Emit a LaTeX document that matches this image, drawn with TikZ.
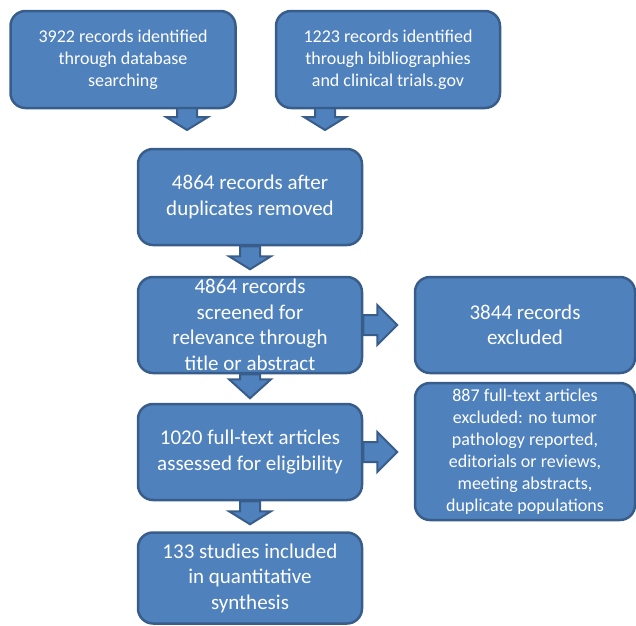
\documentclass[tikz,border=0pt]{standalone}
\usepackage{fontspec}
\setmainfont{Carlito}
\begin{document}
\begin{tikzpicture}[x=1pt,y=-1pt,
  box/.style={draw=boxline,fill=boxfill,line width=2.5pt,rounded corners=15pt,
    text=white,align=center,inner sep=0pt,font=\fontsize{21}{25.5}\selectfont},
  smalltext/.style={font=\fontsize{18}{22}\selectfont},
  blockarrow/.style={draw=boxline,fill=boxfill,line width=2pt,line join=miter}]
\definecolor{boxfill}{RGB}{79,129,189}
\definecolor{boxline}{RGB}{56,93,138}
\useasboundingbox (0,0) rectangle (636,625);

\node[box,smalltext,minimum width=225pt,minimum height=97pt] (b1) at (123,59.5)
  {3922 records identified\\through database\\searching};
\node[box,smalltext,minimum width=224pt,minimum height=97pt] (b2) at (388,59.5)
  {1223 records identified\\through bibliographies\\and clinical trials.gov};
\node[box,minimum width=224pt,minimum height=96pt] (b3) at (250,197)
  {4864 records after\\duplicates removed};
\node[box,minimum width=224pt,minimum height=96pt] (b4) at (250,325)
  {4864 records\\screened for\\relevance through\\title or abstract};
\node[box,minimum width=220pt,minimum height=96pt] (b5) at (525,325)
  {3844 records\\excluded};
\node[box,smalltext,minimum width=220pt,minimum height=137pt] (b6) at (525,451.5)
  {887 full-text articles\\excluded: no tumor\\pathology reported,\\editorials or reviews,\\meeting abstracts,\\duplicate populations};
\node[box,minimum width=224pt,minimum height=96pt] (b7) at (250,452)
  {1020 full-text articles\\assessed for eligibility};
\node[box,minimum width=224pt,minimum height=91pt] (b8) at (250,578)
  {133 studies included\\in quantitative\\synthesis};

% downward block arrows: start point / shaft length / head length
\coordinate (a1) at (187,108);
\coordinate (a2) at (325,108);
\coordinate (a3) at (b3.south);
\coordinate (a4) at (b4.south);
\coordinate (a5) at (b7.south);
\foreach \c/\s/\h in {a1/9/13,a2/9/13,a3/10/13,a4/5/19,a5/10/13}{
  \draw[blockarrow] (\c) ++(-10,0) -- ++(0,\s) -- ++(-11,0)
    -- ++(21,\h) -- ++(21,-\h) -- ++(-11,0) -- ++(0,-\s) -- cycle;
}
% rightward block arrows
\coordinate (r1) at (b4.east);
\coordinate (r2) at (b7.east);
\foreach \c in {r1,r2}{
  \draw[blockarrow] (\c) ++(0,-10) -- ++(14,0) -- ++(0,-10)
    -- ++(20,20) -- ++(-20,20) -- ++(0,-10) -- ++(-14,0) -- cycle;
}
\end{tikzpicture}
\end{document}
